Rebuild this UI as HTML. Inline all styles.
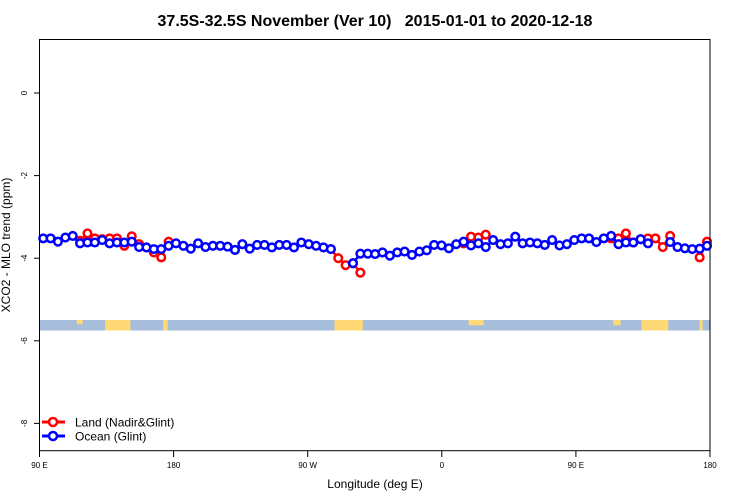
<!DOCTYPE html>
<html><head><meta charset="utf-8"><style>
body{margin:0;background:#fff;}
svg{display:block;font-family:"Liberation Sans",sans-serif;}
</style></head><body>
<svg id="chart" width="750" height="500">
<text x="375" y="26" text-anchor="middle" font-size="16" font-weight="bold" style="white-space:pre">37.5S-32.5S November (Ver 10)   2015-01-01 to 2020-12-18</text>
<g id="strip"></g>
<g id="axes"></g>
<g id="series"></g>
<rect x="39.5" y="39.5" width="670.5" height="411.2" fill="none" stroke="#000" stroke-width="1"/>
<text x="375" y="488" text-anchor="middle" font-size="12">Longitude (deg E)</text>
<text transform="translate(10,245) rotate(-90)" text-anchor="middle" font-size="12">XCO2 - MLO trend (ppm)</text>
<g>
<g>
<line x1="42" y1="422" x2="65" y2="422" stroke="#f00" stroke-width="3"/>
<circle cx="53" cy="422" r="4" fill="#fff" stroke="#f00" stroke-width="2.5"/>
<text x="75" y="426.5" font-size="12">Land (Nadir&amp;Glint)</text></g>
<g>
<line x1="42" y1="436" x2="65" y2="436" stroke="#00f" stroke-width="3"/>
<circle cx="53" cy="436" r="4" fill="#fff" stroke="#00f" stroke-width="2.5"/>
<text x="75" y="440.5" font-size="12">Ocean (Glint)</text></g>
</g>
</svg>
<script>
const xTickVals=[90,180,270,360,450,540];
const xTickLabels=["90 E","180","90 W","0","90 E","180"];
const yTickVals=[0,-2,-4,-6,-8];
const lonStart=92.5, lonStep=4.95;
const ocean=[-3.52,-3.52,-3.60,-3.50,-3.46,-3.64,-3.62,-3.62,-3.56,-3.64,-3.62,-3.62,-3.60,-3.73,-3.74,-3.78,-3.78,-3.70,-3.64,-3.70,-3.77,-3.64,-3.73,-3.70,-3.70,-3.72,-3.80,-3.66,-3.77,-3.68,-3.68,-3.74,-3.68,-3.68,-3.74,-3.62,-3.66,-3.70,-3.74,-3.78,null,null,-4.12,-3.89,-3.89,-3.90,-3.86,-3.94,-3.86,-3.84,-3.92,-3.84,-3.81,-3.68,-3.69,-3.76,-3.66,-3.60,-3.69,-3.64,-3.73,-3.56,-3.66,-3.64,-3.48,-3.64,-3.62,-3.64,-3.68,-3.56,-3.69,-3.66,-3.56,-3.52,-3.52,-3.61,-3.52,-3.46,-3.66,-3.62,-3.62,-3.54,-3.64,null,null,-3.61,-3.73,-3.76,-3.78,-3.77,-3.70];
const land=[null,null,null,null,null,-3.58,-3.40,-3.52,-3.54,-3.52,-3.52,-3.70,-3.47,-3.66,-3.74,-3.86,-3.98,-3.60,null,null,null,null,null,null,null,null,null,null,null,null,null,null,null,null,null,null,null,null,null,-3.78,-4.00,-4.17,-4.12,-4.35,null,null,null,null,null,null,null,null,null,null,null,null,null,-3.64,-3.48,-3.50,-3.43,null,null,null,null,null,null,null,null,null,null,null,null,null,null,null,null,-3.52,-3.52,-3.40,-3.62,-3.54,-3.52,-3.52,-3.73,-3.46,null,null,null,-3.98,-3.60];
const landPatches=[[115,119,0.4],[134,151,1],[173,176,1],[288,307,1],[378,388,0.5],[475,480,0.5],[494,512,1],[533,535,1]];
const NS="http://www.w3.org/2000/svg";
const X0=39.5,X1=710,LON0=90,LON1=540;
function xs(l){return X0+(l-LON0)*(X1-X0)/(LON1-LON0);}
function ys(v){return 93-v*41.3;}
function mk(t,a,p){const e=document.createElementNS(NS,t);for(const k in a)e.setAttribute(k,a[k]);(p||document.getElementById('chart')).appendChild(e);return e;}
const strip=document.getElementById('strip');
const sr=mk('rect',{x:X0,y:320,width:X1-X0,height:10.5,fill:'#a6bddb'},strip);


landPatches.forEach(p=>{const r=mk('rect',{x:xs(p[0]),y:320,width:xs(p[1])-xs(p[0]),height:10.5*p[2],fill:'#fed976'},strip);

});
const axes=document.getElementById('axes');
xTickVals.forEach((v,i)=>{const x=xs(v);
mk('line',{x1:x,y1:450.7,x2:x,y2:457,stroke:'#000'},axes);
const t=mk('text',{x:x,y:468,'text-anchor':'middle','font-size':8},axes);t.textContent=xTickLabels[i];

});
yTickVals.forEach(v=>{const y=ys(v);
mk('line',{x1:34,y1:y,x2:39.5,y2:y,stroke:'#000'},axes);
const t=mk('text',{transform:`translate(27,${y}) rotate(-90)`,'text-anchor':'middle','font-size':8},axes);t.textContent=String(v);

});
const ser=document.getElementById('series');
function draw(arr,col,name){const g=mk('g',{},ser);


let seg=[];const segs=[];
arr.forEach((v,i)=>{if(v===null){if(seg.length)segs.push(seg);seg=[];}else seg.push([xs(lonStart+i*lonStep),ys(v)]);});
if(seg.length)segs.push(seg);
segs.forEach(s=>{if(s.length>1)mk('polyline',{points:s.map(p=>p.join(',')).join(' '),fill:'none',stroke:col,'stroke-width':2.5},g);});
arr.forEach((v,i)=>{if(v===null)return;const c=mk('circle',{cx:xs(lonStart+i*lonStep),cy:ys(v),r:3.8,fill:'#fff',stroke:col,'stroke-width':2.5},g);

});}
draw(land,'#f00','land-series');
draw(ocean,'#00f','ocean-series');
</script>
</body></html>
